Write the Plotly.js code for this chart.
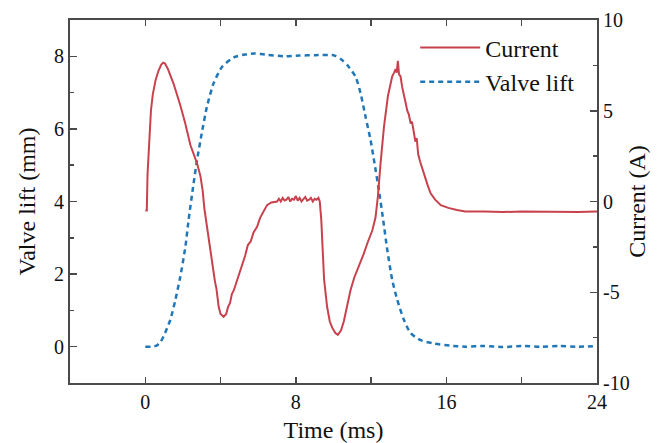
<!DOCTYPE html>
<html>
<head>
<meta charset="utf-8">
<script src="https://cdn.plot.ly/plotly-3.0.1.min.js"></script>
<style>html,body{margin:0;padding:0;background:#fff;}#chart{width:659px;height:443px;}</style>
</head>
<body>
<div id="chart"></div>
<script>
// Current (A), right axis
const currentTime = [0,0.08,0.12,0.2,0.3,0.4,0.55,0.7,0.85,0.95,1.05,1.2,1.5,1.86,2.1,2.4,2.6,2.75,2.93,3.05,3.14,3.3,3.46,3.55,3.63,3.7,3.78,3.85,3.9,4.0,4.16,4.3,4.4,4.5,4.6,4.7,4.86,5.0,5.15,5.3,5.45,5.6,5.75,5.94,6.1,6.3,6.47,6.7,7.0,
  7.1,7.2,7.3,7.4,7.5,7.6,7.7,7.8,7.9,8.0,8.1,8.2,8.3,8.4,8.5,8.6,8.7,8.8,8.9,9.0,9.1,9.2,
  9.27,9.35,9.4,9.5,9.66,9.8,9.93,10.1,10.23,10.4,10.55,10.7,10.9,11.1,11.35,11.6,11.8,12.06,12.23,12.36,12.5,12.68,12.89,13.0,13.12,13.22,13.3,13.36,13.42,13.48,13.56,13.65,13.74,13.82,13.92,14.0,14.1,14.17,14.27,14.35,14.42,14.5,14.6,14.8,15.0,15.16,15.4,15.7,16.1,16.56,17,18,19,20,21,22,23,24];
const currentA = [-0.5,-0.5,1.5,3.5,5.0,5.9,6.7,7.2,7.55,7.65,7.6,7.3,6.5,5.3,4.4,3.1,2.5,2.1,1.4,0.6,-0.4,-1.6,-2.7,-3.3,-3.8,-4.4,-4.8,-5.5,-5.8,-6.2,-6.35,-6.2,-5.8,-5.6,-5.1,-4.9,-4.4,-3.9,-3.4,-3.0,-2.4,-2.2,-1.7,-1.4,-0.9,-0.5,-0.2,-0.05,0.0,
  0.15,0.0,0.2,0.05,0.1,0.25,0.0,0.15,0.1,0.3,0.05,0.2,0.0,0.15,0.25,0.05,0.1,0.2,0.0,0.15,0.1,0.2,
  0.0,-1.0,-2.1,-4.3,-5.8,-6.6,-6.95,-7.25,-7.35,-7.1,-6.6,-5.9,-4.9,-4.2,-3.6,-2.9,-2.3,-1.6,-0.9,0.3,2.1,4.1,5.8,6.4,6.9,7.1,7.3,7.1,7.75,7.0,6.9,6.3,5.95,5.5,5.0,4.8,4.3,4.4,3.8,3.3,3.5,2.6,2.2,1.5,0.9,0.45,0.1,-0.2,-0.35,-0.47,-0.55,-0.55,-0.58,-0.55,-0.57,-0.55,-0.58,-0.55];

// Valve lift (mm), left axis
const liftTime = [0,0.3,0.6,0.8,0.97,1.15,1.33,1.6,1.86,2.13,2.3,2.54,2.75,3.0,3.27,3.63,4.08,4.7,5.3,5.78,6.5,7.36,8.2,9.0,10.0,10.4,10.73,11.17,11.44,11.7,11.97,12.18,12.41,12.64,12.86,13.12,13.39,13.74,14.1,14.63,15.3,16.2,17,18,19,20,21,22,23,24];
const liftMm = [0,0,0.03,0.12,0.28,0.5,0.74,1.29,1.93,2.75,3.49,4.4,5.14,5.88,6.6,7.26,7.71,7.97,8.05,8.08,8.04,8.0,8.02,8.03,8.03,7.92,7.76,7.44,6.98,6.34,5.69,5.05,4.32,3.49,2.66,1.84,1.29,0.74,0.37,0.18,0.09,0.03,0.0,0.02,-0.01,0.02,0.0,0.02,0.0,0.02];

const xTicks = [0,8,16,24];
const currentTickVals = [-10,-5,0,5,10];
const currentTickText = ['-10','-5','0','5','10'];
const seriesNames = ['Current','Valve lift'];

const fontFam = '"Liberation Serif","Times New Roman",serif';
const axisCol = '#4a4a4a';

const traces = [
  {x: currentTime, y: currentA, yaxis: 'y2', name: seriesNames[0], mode: 'lines',
   line: {color: '#c8424e', width: 2}},
  {x: liftTime, y: liftMm, yaxis: 'y', name: seriesNames[1], mode: 'lines',
   line: {color: '#1f77b8', width: 2.5, dash: '5px,4px', shape: 'spline', smoothing: 0.6}}
];

const layout = {
  width: 659, height: 443,
  margin: {l: 70, r: 62, t: 20, b: 60},
  paper_bgcolor: '#fff', plot_bgcolor: '#fff',
  font: {family: fontFam, color: '#111', size: 20},
  showlegend: true,
  legend: {x: 0.655, y: 0.985, xanchor: 'left', yanchor: 'top', bgcolor: 'rgba(0,0,0,0)',
           font: {size: 24, family: fontFam}, itemwidth: 60, tracegroupgap: 0},
  xaxis: {range: [-4, 24], tickvals: xTicks, ticks: 'inside', ticklen: 6, tickwidth: 1.5, tickcolor: axisCol,
          showline: true, linecolor: axisCol, linewidth: 2, mirror: 'ticks', showgrid: false, zeroline: false,
          minor: {dtick: 4, tick0: 0, ticks: 'inside', ticklen: 6, tickwidth: 1.5, tickcolor: axisCol},
          tickfont: {size: 20}, title: {text: 'Time (ms)', font: {size: 24}, standoff: 10}},
  yaxis: {range: [-1, 9], dtick: 2, tick0: 0, ticks: 'inside', ticklen: 7, tickwidth: 1.5, tickcolor: axisCol,
          showline: true, linecolor: axisCol, linewidth: 2, showgrid: false, zeroline: false,
          minor: {dtick: 1, tick0: 0, ticks: 'inside', ticklen: 4, tickwidth: 1.5, tickcolor: axisCol},
          tickfont: {size: 20}, title: {text: 'Valve lift (mm)', font: {size: 24}, standoff: 12}},
  yaxis2: {range: [-10, 10], tickvals: currentTickVals, ticktext: currentTickText, overlaying: 'y', side: 'right', ticks: 'inside', ticklen: 7, tickwidth: 1.5, tickcolor: axisCol,
           showline: true, linecolor: axisCol, linewidth: 2, showgrid: false, zeroline: false,
           minor: {dtick: 2.5, tick0: 0, ticks: 'inside', ticklen: 4, tickwidth: 1.5, tickcolor: axisCol},
           tickfont: {size: 20}, title: {text: 'Current (A)', font: {size: 24}, standoff: 0}}
};

Plotly.newPlot('chart', traces, layout, {displayModeBar: false, staticPlot: true});
</script>
</body>
</html>
